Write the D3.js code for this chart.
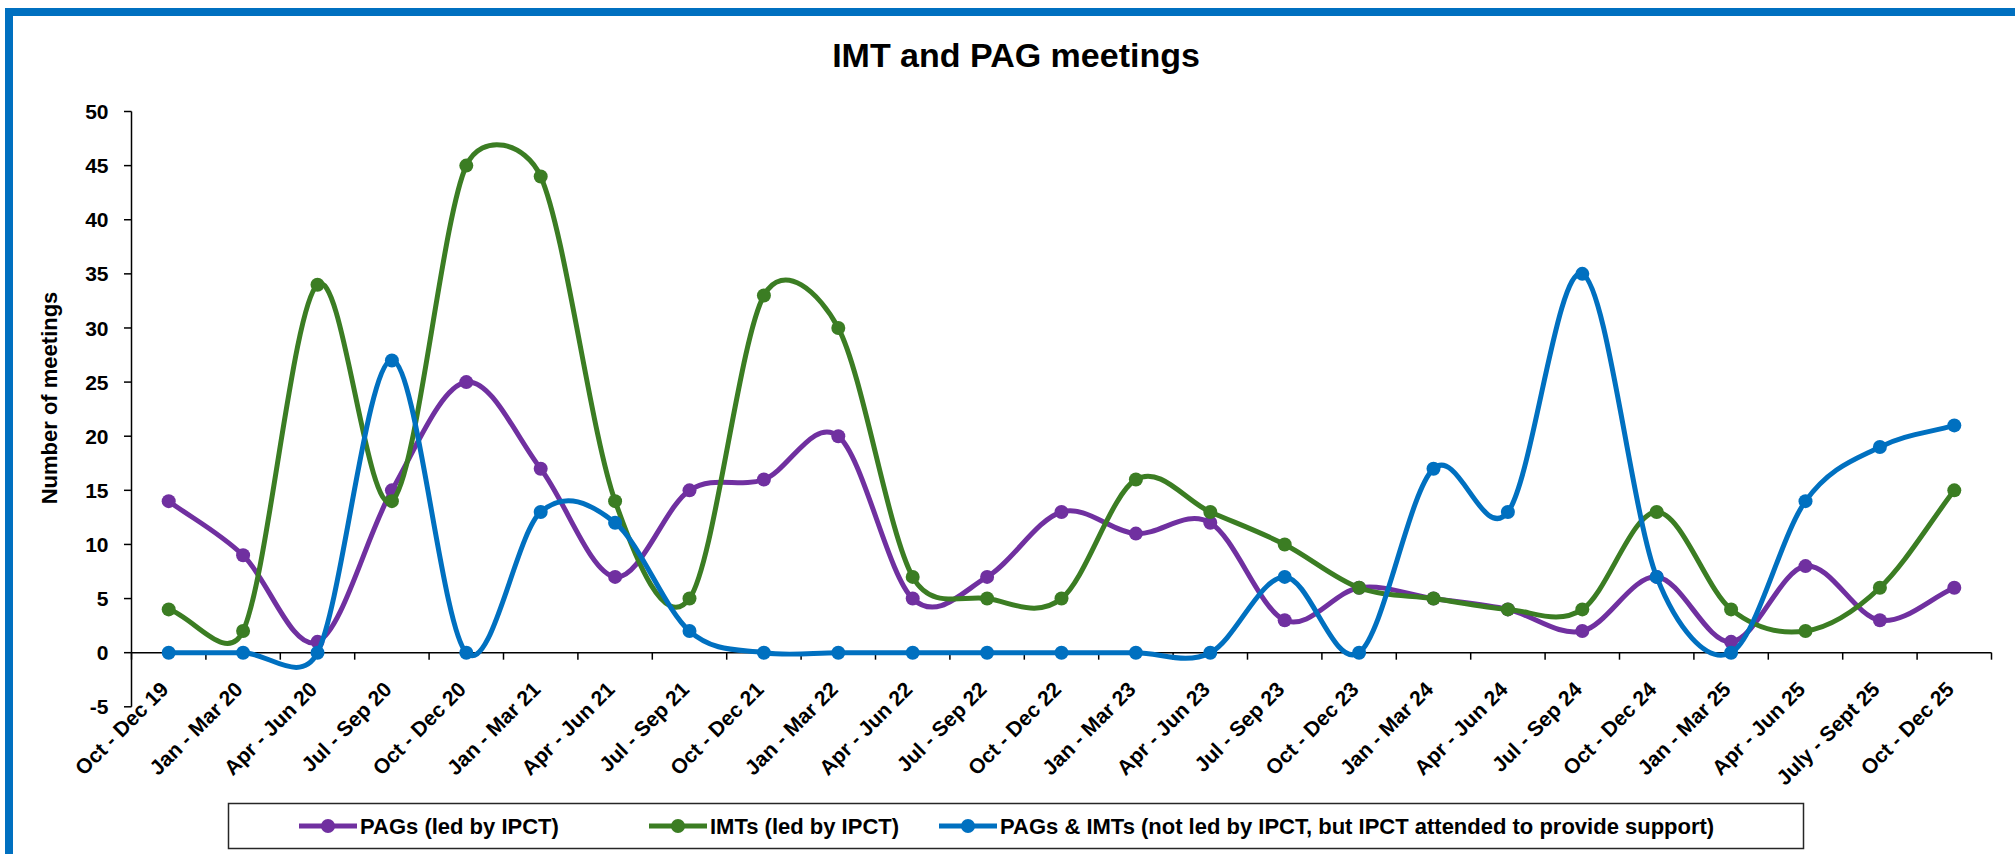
<!DOCTYPE html>
<html>
<head>
<meta charset="utf-8">
<script src="https://cdn.jsdelivr.net/npm/d3@7"></script>
<style>
body{margin:0;background:#fff;}
svg text{font-family:"Liberation Sans",Arial,sans-serif;font-weight:bold;fill:#000;}
</style>
</head>
<body>
<div id="chart"></div>
<script>
var quarters = ["Oct - Dec 19","Jan - Mar 20","Apr - Jun 20","Jul - Sep 20","Oct - Dec 20",
	"Jan - Mar 21","Apr - Jun 21","Jul - Sep 21","Oct - Dec 21","Jan - Mar 22","Apr - Jun 22",
	"Jul - Sep 22","Oct - Dec 22","Jan - Mar 23","Apr - Jun 23","Jul - Sep 23","Oct - Dec 23",
	"Jan - Mar 24","Apr - Jun 24","Jul - Sep 24","Oct - Dec 24","Jan - Mar 25","Apr - Jun 25",
	"July - Sept 25","Oct - Dec 25"]

var pags    = [14,9,1,15,25,17,7,15,16,20,5,7,13,11,12,3,6,5,4,2,7,1,8,3,6]
var imts    = [4,2,34,14,45,44,14,5,33,30,7,5,5,16,13,10,6,5,4,4,13,4,2,6,15]
var support = [0,0,0,27,0,13,12,2,0,0,0,0,0,0,0,7,0,17,13,35,7,0,14,19,21]

var seriesNames = ["PAGs (led by IPCT)","IMTs (led by IPCT)","PAGs & IMTs (not led by IPCT, but IPCT attended to provide support)"]
var seriesColors = ["#7030A0","#3B7D23","#0070C0"]
var yTicks = [-5,0,5,10,15,20,25,30,35,40,45,50]

var width = 2015, height = 854
var plot = {left:131.5, right:1991.5, top:111.5, bottom:706.8}

var xScale = d3.scaleBand()
	.domain(quarters)
	.range([plot.left, plot.right])

var yScale = d3.scaleLinear()
	.domain([-5,50])
	.range([plot.bottom, plot.top])

var svg = d3.select("#chart").append("svg")
	.attr("width", width)
	.attr("height", height)

// blue frame, only top and left sides show
svg.append("rect")
	.attr("x", 9).attr("y", 12)
	.attr("width", 2200).attr("height", 1000)
	.attr("fill", "none")
	.attr("stroke", "#0070C0")
	.attr("stroke-width", 8)

svg.append("text")
	.attr("x", 1016).attr("y", 67)
	.attr("text-anchor", "middle")
	.style("font-size", "34px")
	.text("IMT and PAG meetings")

svg.append("text")
	.attr("transform", "translate(57,398) rotate(-90)")
	.attr("text-anchor", "middle")
	.style("font-size", "22px")
	.text("Number of meetings")

// y axis
var yAxis = svg.append("g")
yAxis.append("line")
	.attr("x1", plot.left).attr("x2", plot.left)
	.attr("y1", yScale(50)).attr("y2", yScale(-5))
	.attr("stroke", "#000").attr("stroke-width", 1.5)
yAxis.selectAll(".ytick").data(yTicks).enter()
	.append("line")
	.attr("x1", plot.left - 7.5).attr("x2", plot.left)
	.attr("y1", function(d){return yScale(d)})
	.attr("y2", function(d){return yScale(d)})
	.attr("stroke", "#000").attr("stroke-width", 1.5)
yAxis.selectAll(".ylab").data(yTicks).enter()
	.append("text")
	.attr("x", 108.5)
	.attr("y", function(d){return yScale(d)})
	.attr("dy", "0.36em")
	.attr("text-anchor", "end")
	.style("font-size", "21px")
	.text(function(d){return d})

// x axis at zero, ticks between categories
var y0 = yScale(0)
var xAxis = svg.append("g")
xAxis.append("line")
	.attr("x1", plot.left).attr("x2", plot.right)
	.attr("y1", y0).attr("y2", y0)
	.attr("stroke", "#000").attr("stroke-width", 1.5)
var bounds = quarters.map(function(q){return xScale(q)}).concat([plot.right])
xAxis.selectAll(".xtick").data(bounds).enter()
	.append("line")
	.attr("x1", function(d){return d}).attr("x2", function(d){return d})
	.attr("y1", y0).attr("y2", y0 + 7)
	.attr("stroke", "#000").attr("stroke-width", 1.5)
xAxis.selectAll(".xlab").data(quarters).enter()
	.append("text")
	.attr("transform", function(d){
		var x = xScale(d) + xScale.bandwidth()/2 + 1
		return "translate(" + x + "," + (y0 + 38) + ") rotate(-45)"
	})
	.attr("text-anchor", "end")
	.style("font-size", "21px")
	.text(function(d){return d})

function dist(a,b){
	return Math.sqrt((a[0]-b[0])*(a[0]-b[0]) + (a[1]-b[1])*(a[1]-b[1]))
}

// smoothed line like the spreadsheet does it: bezier with limited tangents
function smoothPath(pts){
	var p = d3.path()
	p.moveTo(pts[0][0], pts[0][1])
	for(var i=0;i<pts.length-1;i++){
		var p1 = pts[i], p2 = pts[i+1]
		var p0 = i > 0 ? pts[i-1] : p1
		var p3 = i < pts.length-2 ? pts[i+2] : p2
		var f0 = i > 0 ? 1/6 : 1/3
		var f1 = i < pts.length-2 ? 1/6 : 1/3
		var d12 = dist(p1,p2), d02 = dist(p0,p2), d13 = dist(p1,p3)
		if(f0*d02 > d12/2) f0 = d12/2/d02
		if(f1*d13 > d12/2) f1 = d12/2/d13
		p.bezierCurveTo(
			p1[0] + f0*(p2[0]-p0[0]), p1[1] + f0*(p2[1]-p0[1]),
			p2[0] - f1*(p3[0]-p1[0]), p2[1] - f1*(p3[1]-p1[1]),
			p2[0], p2[1])
	}
	return p.toString()
}

var allSeries = [pags, imts, support]

allSeries.forEach(function(values, k){
	var pts = values.map(function(v,i){
		return [xScale(quarters[i]) + xScale.bandwidth()/2, yScale(v)]
	})
	svg.append("path")
		.attr("d", smoothPath(pts))
		.attr("fill", "none")
		.attr("stroke", seriesColors[k])
		.attr("stroke-width", 5)
		.attr("stroke-linecap", "round")
	svg.selectAll(".m" + k).data(pts).enter()
		.append("circle")
		.attr("cx", function(d){return d[0]})
		.attr("cy", function(d){return d[1]})
		.attr("r", 7)
		.attr("fill", seriesColors[k])
})

// legend
var legend = svg.append("g")
legend.append("rect")
	.attr("x", 228.5).attr("y", 803.5)
	.attr("width", 1575).attr("height", 45)
	.attr("fill", "#fff")
	.attr("stroke", "#262626")
	.attr("stroke-width", 1.5)
var legendX = [328, 678, 968]
seriesNames.forEach(function(name, k){
	var cx = legendX[k], cy = 826
	legend.append("line")
		.attr("x1", cx - 29).attr("x2", cx + 29)
		.attr("y1", cy).attr("y2", cy)
		.attr("stroke", seriesColors[k]).attr("stroke-width", 5)
	legend.append("circle")
		.attr("cx", cx).attr("cy", cy).attr("r", 7)
		.attr("fill", seriesColors[k])
	legend.append("text")
		.attr("x", cx + 32).attr("y", cy)
		.attr("dy", "0.36em")
		.style("font-size", "22px")
		.text(name)
})
</script>
</body>
</html>
